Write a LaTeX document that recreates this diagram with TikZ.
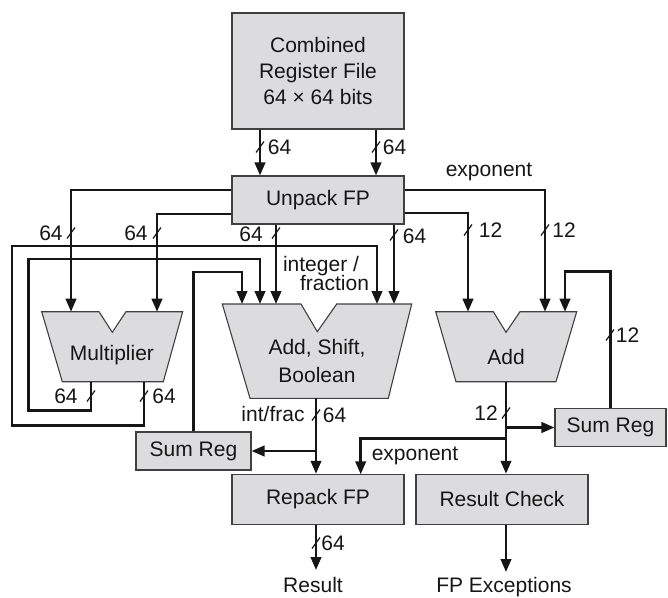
\documentclass[tikz,border=0pt]{standalone}
\usepackage{fontspec}
\setmainfont{Liberation Sans}
\usetikzlibrary{arrows.meta,calc}
\definecolor{boxfill}{RGB}{220,220,222}
\definecolor{ink}{RGB}{22,22,22}
\newcommand\busmark[2]{\draw[slashline] (#1-4,#2+5.5) -- (#1+4,#2-5.5);}
\begin{document}
\begin{tikzpicture}[x=1pt,y=-1pt,
  font=\fontsize{21}{26}\selectfont,
  box/.style={draw=black!75, line width=1.1pt, fill=boxfill, inner sep=0pt, text=ink, align=center},
  alu/.style={draw=black!75, line width=1.1pt, fill=boxfill},
  wire/.style={line width=2.5pt, draw=ink},
  arr/.style={wire, -{Triangle[width=10.5pt,length=13pt]}},
  slashline/.style={line width=1.2pt, draw=ink},
  lbl/.style={text=ink, inner sep=0pt},
]
\useasboundingbox (0,0) rectangle (668,597);

% ---------- boxes ----------
\node[box, minimum width=172pt, minimum height=116pt] (reg) at (318,71) {Combined\\Register File\\64 × 64 bits};
\node[box, minimum width=172pt, minimum height=48pt] (unpack) at (318,200) {Unpack FP};
\node[box, minimum width=115pt, minimum height=38pt] (sumL) at (193.5,451) {Sum Reg};
\node[box, minimum width=172pt, minimum height=50pt] (repack) at (318,499.3) {Repack FP};
\node[box, minimum width=172pt, minimum height=50pt] (check) at (502,499.3) {Result Check};
\node[box, minimum width=111pt, minimum height=38pt] (sumR) at (610.5,427.5) {Sum Reg};

% ---------- ALU shapes ----------
\draw[alu] (41.7,311.7) -- (99,311.7) -- (112.3,332.3) -- (126,311.7) -- (182.7,311.7) -- (163.3,381.7) -- (62.3,381.7) -- cycle;
\node[lbl, anchor=base] (mult) at (112,360.7) {Multiplier};
\draw[alu] (222.3,304) -- (301,304) -- (317.3,331.7) -- (336.7,304) -- (411.7,304) -- (388.3,398.3) -- (250,398.3) -- cycle;
\node[lbl, align=center, font=\fontsize{21}{28}\selectfont] (asb) at (317,361) {Add, Shift,\\Boolean};
\draw[alu] (435.7,311.7) -- (493.3,311.7) -- (506,332.3) -- (520,311.7) -- (576.7,311.7) -- (556,381.7) -- (456,381.7) -- cycle;
\node[lbl] (addlbl) at (506,357) {Add};

% ---------- connection points ----------
\coordinate (mulInA) at (71,311.7);
\coordinate (mulInB) at (157,311.7);
\coordinate (mulOutA) at (91,381.7);
\coordinate (mulOutB) at (144,381.7);
\coordinate (asbInA) at (242,304);
\coordinate (asbInB) at (260,304);
\coordinate (asbInC) at (276,304);
\coordinate (asbInD) at (377,304);
\coordinate (asbInE) at (394,304);
\coordinate (asbOut) at (316,398.3);
\coordinate (addInA) at (468,311.7);
\coordinate (addInB) at (545,311.7);
\coordinate (addInC) at (565,311.7);
\coordinate (addOut) at (506,381.7);
\coordinate (repIn) at (360.7,474.3);
\coordinate (resTip) at (316,570);
\coordinate (excTip) at (506,572);

% ---------- wires ----------
\draw[arr] ([xshift=-58pt]reg.south) -- ([xshift=-58pt]unpack.north);
\draw[arr] ([xshift=58pt]reg.south) -- ([xshift=58pt]unpack.north);
\draw[arr] ([yshift=10pt]unpack.west) -| (mulInA);
\draw[arr] ([yshift=-14pt]unpack.west) -| (mulInB);
\draw[arr] (unpack.south -| asbInC) -- (asbInC);
\draw[arr] (unpack.south -| asbInE) -- (asbInE);
\draw[arr] ([yshift=10pt]unpack.east) -| (addInB);
\draw[arr] ([yshift=-13pt]unpack.east) -| (addInA);
\draw[arr] (mulOutB) -- (144,425.7) -- (12,425.7) -- (12,246) -- (377,246) -- (asbInD);
\draw[arr] (mulOutA) -- (91,410.7) -- (28.3,410.7) -- (28.3,259) -- (260,259) -- (asbInB);
\draw[arr] (sumL.north) -- (193.5,272) -- (242,272) -- (asbInA);
\draw[arr] (asbOut) -- (asbOut |- repack.north);
\draw[arr] (asbOut |- sumL.east) -- (sumL.east);
\draw[arr] (repack.south -| resTip) -- (resTip);
\draw[arr] (addOut) -- (addOut |- check.north);
\draw[arr] (addOut |- sumR.west) -- (sumR.west);
\draw[arr] (506,438.3) -| (repIn);
\draw[arr] (sumR.north) |- (565,271.7) -- (addInC);
\draw[arr] (check.south -| excTip) -- (excTip);

% ---------- bus marks ----------
\busmark{260}{147}
\busmark{376}{147}
\busmark{71}{233}
\busmark{157}{233}
\busmark{276}{233}
\busmark{394}{235}
\busmark{468}{230}
\busmark{545}{230}
\busmark{610}{335}
\busmark{91}{396}
\busmark{144}{396}
\busmark{316}{415}
\busmark{316}{543}
\busmark{506}{413}

% ---------- labels ----------
\node[lbl] (l1) at (279.5,147) {64};
\node[lbl] (l2) at (394.5,147) {64};
\node[lbl] (l3) at (51,233) {64};
\node[lbl] (l4) at (136,233) {64};
\node[lbl] (l5) at (251,234) {64};
\node[lbl] (l6) at (414.5,236) {64};
\node[lbl] (l7) at (490.5,230) {12};
\node[lbl] (l8) at (564,230) {12};
\node[lbl, anchor=base] (l9) at (489,176.5) {exponent};
\node[lbl] (l10) at (627.5,335) {12};
\node[lbl] (l11) at (66,396) {64};
\node[lbl] (l12) at (164,396) {64};
\node[lbl, anchor=base] (l13) at (321,271) {integer /};
\node[lbl, anchor=base] (l14) at (334.5,290.7) {fraction};
\node[lbl, anchor=base] (l15) at (273,421.7) {int/frac};
\node[lbl] (l16) at (334.5,415) {64};
\node[lbl] (l17) at (486,413.3) {12};
\node[lbl, anchor=base] (l18) at (415,460) {exponent};
\node[lbl] (l19) at (333,543) {64};
\node[lbl, anchor=base] (l20) at (313,592.7) {Result};
\node[lbl, anchor=base] (l21) at (504,592.7) {FP Exceptions};
\end{tikzpicture}
\end{document}
